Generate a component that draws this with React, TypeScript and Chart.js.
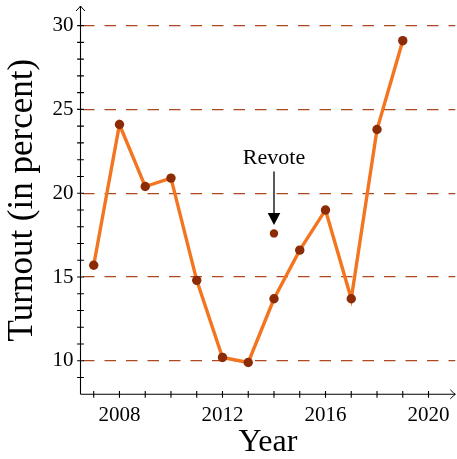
import React, { useEffect, useRef } from "react";
import { Chart, registerables } from "chart.js";

Chart.register(...registerables);

// ---- data ----
const years = [2007, 2008, 2009, 2010, 2011, 2012, 2013, 2014, 2015, 2016, 2017, 2018, 2019];
const turnout = [15.7, 24.1, 20.4, 20.9, 14.8, 10.2, 9.9, 13.7, 16.6, 19.0, 13.7, 23.8, 29.1];
const revoteYear = [2014];
const revoteTurnout = [17.6];
const xLabelYears = [2008, 2012, 2016, 2020];
const yLabelValues = [10, 15, 20, 25, 30];
const xMinorTicks = [2007, 2008, 2009, 2010, 2011, 2012, 2013, 2014, 2015, 2016, 2017, 2018, 2019, 2020];
const yMinorTicks = [9, 10, 11, 12, 13, 14, 15, 16, 17, 18, 19, 20, 21, 22, 23, 24, 25, 26, 27, 28, 29, 30];
const annotationText = "Revote";
const annotationTextY = 21.72;
const annotationArrowFrom = 21.3;
const annotationArrowTo = 18.1;

const X_MIN = 2006.487;
const X_MAX = 2021.04;
const Y_MIN = 8;
const Y_MAX = 31.17;

const FONT = "'Liberation Serif', 'Times New Roman', serif";
const LINE_COLOR = "#f47520";
const POINT_COLOR = "#8c2b05";
const GRID_COLOR = "#ad4820";

const zeroPad = (s: any) => {
  s.paddingTop = 0;
  s.paddingBottom = 0;
  s.paddingLeft = 0;
  s.paddingRight = 0;
};

const axesPlugin = {
  id: "axesPlugin",
  afterDatasetsDraw(chart: any) {
    const ctx = chart.ctx;
    const xs = chart.scales.x;
    const ys = chart.scales.y;
    const x0 = xs.getPixelForValue(X_MIN);
    const x1 = xs.getPixelForValue(X_MAX);
    const y0 = ys.getPixelForValue(Y_MIN);
    const y1 = ys.getPixelForValue(Y_MAX);
    ctx.save();
    ctx.strokeStyle = "#000";
    ctx.fillStyle = "#000";
    ctx.lineWidth = 1.1;
    // axis lines
    ctx.beginPath();
    ctx.moveTo(x0, y0);
    ctx.lineTo(x1, y0);
    ctx.moveTo(x0, y0);
    ctx.lineTo(x0, y1);
    ctx.stroke();
    // arrow heads
    ctx.lineWidth = 1;
    ctx.beginPath();
    ctx.moveTo(x1 - 5, y0 - 4.5);
    ctx.quadraticCurveTo(x1 - 1.5, y0 - 1, x1, y0);
    ctx.quadraticCurveTo(x1 - 1.5, y0 + 1, x1 - 5, y0 + 4.5);
    ctx.moveTo(x0 - 4.5, y1 + 5);
    ctx.quadraticCurveTo(x0 - 1, y1 + 1.5, x0, y1);
    ctx.quadraticCurveTo(x0 + 1, y1 + 1.5, x0 + 4.5, y1 + 5);
    ctx.stroke();
    // tick marks crossing the axes
    ctx.lineWidth = 1.1;
    ctx.beginPath();
    xMinorTicks.forEach((v) => {
      const px = xs.getPixelForValue(v);
      ctx.moveTo(px, y0 - 3.4);
      ctx.lineTo(px, y0 + 3.4);
    });
    yMinorTicks.forEach((v) => {
      const py = ys.getPixelForValue(v);
      ctx.moveTo(x0 - 3.4, py);
      ctx.lineTo(x0 + 3.4, py);
    });
    ctx.stroke();
    // annotation
    const ax = xs.getPixelForValue(revoteYear[0]);
    const aTop = ys.getPixelForValue(annotationArrowFrom);
    const aTip = ys.getPixelForValue(annotationArrowTo);
    ctx.lineWidth = 1.3;
    ctx.beginPath();
    ctx.moveTo(ax, aTop);
    ctx.lineTo(ax, aTip - 10);
    ctx.stroke();
    ctx.beginPath();
    ctx.moveTo(ax - 6.3, aTip - 12);
    ctx.lineTo(ax + 6.3, aTip - 12);
    ctx.lineTo(ax, aTip);
    ctx.closePath();
    ctx.fill();
    ctx.font = `22px ${FONT}`;
    ctx.textAlign = "center";
    ctx.textBaseline = "alphabetic";
    ctx.fillText(annotationText, ax, ys.getPixelForValue(annotationTextY));
    ctx.restore();
  },
};

export default function App() {
  const ref = useRef<HTMLCanvasElement>(null);
  useEffect(() => {
    if (!ref.current) return;
    Chart.defaults.font.family = FONT;
    const chart = new Chart(ref.current, {
      type: "line",
      data: {
        datasets: [
          {
            label: "Turnout",
            data: years.map((y, i) => ({ x: y, y: turnout[i] })),
            borderColor: LINE_COLOR,
            borderWidth: 3.4,
            pointRadius: 4.7,
            pointBackgroundColor: POINT_COLOR,
            pointBorderWidth: 0,
            tension: 0,
          },
          {
            label: "Revote",
            data: revoteYear.map((y, i) => ({ x: y, y: revoteTurnout[i] })),
            showLine: false,
            pointRadius: 4.2,
            pointBackgroundColor: POINT_COLOR,
            pointBorderWidth: 0,
          },
        ],
      },
      options: {
        responsive: false,
        animation: false,
        layout: { autoPadding: false, padding: { top: 6, right: 1.7, left: 0, bottom: 0 } },
        plugins: { legend: { display: false }, tooltip: { enabled: false } },
        scales: {
          x: {
            type: "linear",
            min: X_MIN,
            max: X_MAX,
            afterFit: (s: any) => {
              s.height = 64.7;
              zeroPad(s);
            },
            ticks: {
              stepSize: 1,
              autoSkip: false,
              maxRotation: 0,
              padding: 9,
              color: "#000",
              font: { size: 21, family: FONT },
              callback: (v: any) => (xLabelYears.includes(Number(v)) ? String(v) : ""),
            },
            grid: { display: false, drawTicks: false, tickLength: 0 },
            border: { display: false },
            title: {
              display: true,
              text: "Year",
              color: "#000",
              font: { size: 32, family: FONT, lineHeight: 1 },
              padding: { top: 0, bottom: 0.5 },
            },
          },
          y: {
            type: "linear",
            min: Y_MIN,
            max: Y_MAX,
            afterFit: (s: any) => {
              s.width = 80.5;
              zeroPad(s);
            },
            ticks: {
              stepSize: 1,
              autoSkip: false,
              padding: 7,
              color: "#000",
              font: { size: 21, family: FONT },
              callback: (v: any) => (yLabelValues.includes(Number(v)) ? String(v) : ""),
            },
            grid: {
              display: true,
              drawOnChartArea: true,
              drawTicks: false,
              tickLength: 0,
              lineWidth: 1.2,
              color: (c: any) =>
                c.tick && yLabelValues.includes(Number(c.tick.value)) ? GRID_COLOR : "rgba(0,0,0,0)",
            },
            border: { display: false, dash: [11.5, 10], dashOffset: -2 },
            title: {
              display: true,
              text: "Turnout (in percent)",
              color: "#000",
              font: { size: 35, family: FONT, lineHeight: 1.2 },
              padding: { top: 1.5, bottom: 0 },
            },
          },
        },
      },
      plugins: [axesPlugin],
    });
    return () => chart.destroy();
  }, []);
  return (
    <div style={{ position: "fixed", left: 0, top: 0, width: 457, height: 459, background: "#fff" }}>
      <canvas ref={ref} width={457} height={459} />
    </div>
  );
}
